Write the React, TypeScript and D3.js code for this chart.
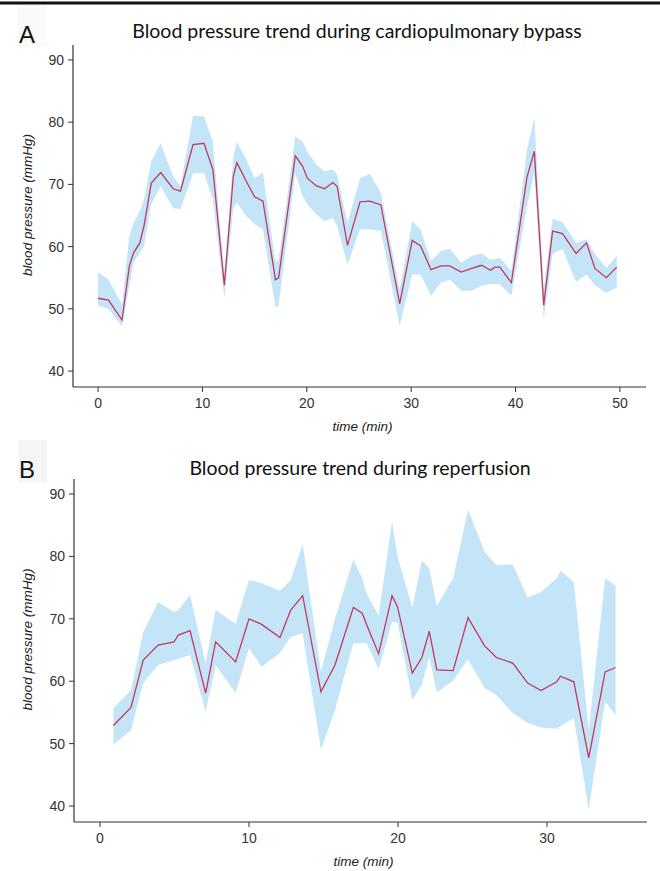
import React from 'react';
import * as d3 from 'd3';

// Panel A - blood pressure during cardiopulmonary bypass (mean and band)
const cpbTime = [0, 1, 2.3, 3, 3.4, 4, 4.4, 5.1, 6, 7.2, 7.9, 9.1, 10.15, 11, 12.1, 12.96, 13.3, 14.2, 15, 15.8, 17, 17.3, 18.9, 19.6, 20.05, 20.9, 21.7, 22.5, 22.9, 23.9, 25.1, 26.05, 27.1, 28.9, 30.1, 30.9, 31.9, 32.85, 33.7, 34.8, 35.8, 36.75, 37.6, 38, 38.5, 39.6, 41.1, 41.8, 42.7, 43.55, 44.5, 45.8, 46.8, 47.6, 48.7, 49.7];
const cpbMean = [51.7, 51.4, 48.2, 56.9, 59.0, 60.6, 63.3, 70.2, 71.9, 69.3, 68.9, 76.4, 76.6, 72.4, 53.8, 71.3, 73.5, 70.5, 68.0, 67.3, 54.7, 55.0, 74.6, 72.9, 71.0, 69.8, 69.3, 70.3, 69.7, 60.2, 67.2, 67.3, 66.7, 50.8, 61.0, 60.1, 56.3, 56.9, 56.9, 55.9, 56.5, 57.0, 56.2, 56.7, 56.7, 54.2, 71.2, 75.3, 50.6, 62.5, 62.1, 58.9, 60.6, 56.5, 55.0, 56.7];
const cpbLower = [50.5, 50.0, 47.2, 53.7, 57.4, 59.0, 60.1, 66.8, 69.7, 66.2, 66.0, 71.8, 71.8, 67.6, 51.8, 66.2, 67.0, 64.9, 63.6, 62.8, 50.2, 50.5, 71.8, 68.1, 66.8, 65.2, 64.1, 64.6, 63.3, 57.1, 62.8, 62.8, 62.5, 47.3, 55.5, 55.5, 52.1, 54.2, 54.7, 52.9, 52.9, 53.7, 54.0, 54.0, 53.9, 52.1, 66.5, 72.0, 48.3, 58.8, 59.6, 54.3, 55.5, 53.8, 52.6, 53.4];
const cpbUpper = [55.9, 54.7, 50.7, 61.7, 63.8, 65.7, 67.6, 73.7, 76.6, 71.3, 69.7, 81.0, 80.9, 76.9, 55.3, 74.5, 76.9, 74.0, 71.0, 71.9, 57.4, 57.9, 77.7, 76.9, 75.3, 73.2, 72.1, 72.4, 71.6, 63.8, 71.0, 71.7, 68.6, 53.1, 64.1, 62.8, 57.7, 59.3, 59.7, 57.4, 58.5, 58.9, 57.9, 58.0, 58.2, 56.1, 75.6, 80.7, 53.1, 64.5, 63.9, 60.6, 61.2, 58.8, 56.6, 58.5];

// Panel B - blood pressure during reperfusion
const repTime = [0.9, 2.08, 2.9, 3.9, 4.97, 5.26, 6.04, 7.09, 7.76, 9.1, 10, 10.85, 12.08, 12.8, 13.6, 14.83, 15.77, 17, 17.6, 17.9, 18.7, 19.6, 19.97, 20.96, 21.6, 22.1, 22.6, 23.7, 24.7, 25.8, 26.6, 27.7, 28.7, 29.6, 30.65, 30.9, 31.8, 32.8, 33.9, 34.6];
const repMean = [52.9, 55.8, 63.4, 65.8, 66.3, 67.4, 68.1, 58.1, 66.3, 63.1, 70.0, 69.1, 67.0, 71.4, 73.7, 58.3, 62.6, 71.8, 70.9, 69.0, 64.4, 73.7, 71.9, 61.3, 63.8, 68.0, 61.8, 61.7, 70.2, 65.7, 63.8, 62.9, 59.7, 58.5, 59.9, 60.8, 59.9, 47.7, 61.5, 62.2];
const repLower = [49.9, 52.1, 59.7, 62.6, 63.4, 63.6, 64.2, 55.1, 62.6, 58.1, 65.3, 62.3, 64.5, 67.1, 67.7, 49.0, 55.4, 66.1, 66.1, 66.1, 61.9, 69.5, 69.4, 57.0, 59.4, 63.9, 58.2, 60.1, 63.5, 58.9, 57.8, 54.9, 53.3, 52.6, 52.4, 52.8, 54.1, 39.5, 56.7, 54.6];
const repUpper = [55.7, 58.5, 67.9, 72.7, 71.1, 71.4, 73.8, 62.9, 71.4, 69.2, 76.2, 75.7, 74.5, 76.2, 82.0, 61.5, 70.0, 79.5, 76.5, 74.0, 70.5, 85.6, 80.0, 71.8, 79.4, 78.0, 72.1, 76.5, 87.5, 80.8, 78.6, 78.7, 73.4, 74.3, 76.5, 77.7, 75.9, 52.2, 76.5, 75.3];

const yTicks = [40, 50, 60, 70, 80, 90];
const cpbXTicks = [0, 10, 20, 30, 40, 50];
const repXTicks = [0, 10, 20, 30];

const BAND = '#c4e5f8';
const LINE = '#c0395f';
const AXIS = '#333333';
const sans = '"Liberation Sans", Arial, sans-serif';

const Panel = ({ cfg, letter, title, time, mean, lower, upper, xTicks }) => {
  const x = d3.scaleLinear().domain(cfg.xDomain).range([cfg.left, cfg.right]);
  const y = d3.scaleLinear().domain([37.44, 92.4]).range([cfg.bottom, cfg.top]);

  const rows = time.map((t, i) => ({ t, m: mean[i], lo: lower[i], hi: upper[i] }));
  const area = d3.area().x(d => x(d.t)).y0(d => y(d.lo)).y1(d => y(d.hi));
  const line = d3.line().x(d => x(d.t)).y(d => y(d.m));

  const midY = (cfg.top + cfg.bottom) / 2 - 11;

  return (
    <g>
      {/* faint box left behind the panel letter */}
      <rect x={18} y={cfg.letterY - 38} width={29} height={42} fill={cfg.boxFill} />
      <text x={19} y={cfg.letterY} fontFamily={sans} fontSize={24} fill="#111">{letter}</text>
      <text x={cfg.titleX} y={cfg.titleY} textAnchor="middle" fontFamily="Lato, 'Open Sans', sans-serif" fontSize={19.5} fill="#111">{title}</text>

      <path d={area(rows)} fill={BAND} />
      <path d={line(rows)} fill="none" stroke={LINE} strokeWidth={1.3} />

      {/* y axis */}
      <line x1={cfg.left} x2={cfg.left} y1={cfg.top} y2={cfg.bottom} stroke={AXIS} strokeWidth={1.2} />
      {yTicks.map(t => (
        <g key={t} transform={`translate(0,${y(t)})`}>
          <line x1={cfg.left - 5} x2={cfg.left} stroke={AXIS} strokeWidth={1} />
          <text x={cfg.left - 9} dy="0.36em" textAnchor="end" fontFamily={sans} fontSize={14} fill="#333">{t}</text>
        </g>
      ))}
      <text transform={`translate(32,${midY}) rotate(-90)`} textAnchor="middle" fontFamily={sans} fontStyle="italic" fontSize={13.5} fill="#222">
        blood pressure (mmHg)
      </text>

      {/* x axis */}
      <line x1={cfg.left} x2={cfg.right} y1={cfg.bottom} y2={cfg.bottom} stroke={AXIS} strokeWidth={1.2} />
      {xTicks.map(t => (
        <g key={t} transform={`translate(${x(t)},${cfg.bottom})`}>
          <line y1={0} y2={5} stroke={AXIS} strokeWidth={1} />
          <text y={21} textAnchor="middle" fontFamily={sans} fontSize={14} fill="#333">{t}</text>
        </g>
      ))}
      <text x={(cfg.left + cfg.right) / 2 + 3} y={cfg.bottom + 44} textAnchor="middle" fontFamily={sans} fontStyle="italic" fontSize={13.5} fill="#222">
        time (min)
      </text>
    </g>
  );
};

const cfgA = { left: 73, right: 646, top: 45, bottom: 387, xDomain: [-2.4, 52.5], titleX: 357, titleY: 38, letterY: 43, boxFill: '#fafafa' };
const cfgB = { left: 74, right: 647, top: 479, bottom: 822, xDomain: [-1.745, 36.71], titleX: 360, titleY: 475, letterY: 478, boxFill: '#f5f5f5' };

export default function App() {
  return (
    <svg width={660} height={871} style={{ position: 'absolute', left: 0, top: 0, background: '#fff' }}>
      <rect x={0} y={1.5} width={660} height={3} fill="#111" />
      <Panel cfg={cfgA} letter="A" title="Blood pressure trend during cardiopulmonary bypass"
        time={cpbTime} mean={cpbMean} lower={cpbLower} upper={cpbUpper} xTicks={cpbXTicks} />
      <Panel cfg={cfgB} letter="B" title="Blood pressure trend during reperfusion"
        time={repTime} mean={repMean} lower={repLower} upper={repUpper} xTicks={repXTicks} />
    </svg>
  );
}
